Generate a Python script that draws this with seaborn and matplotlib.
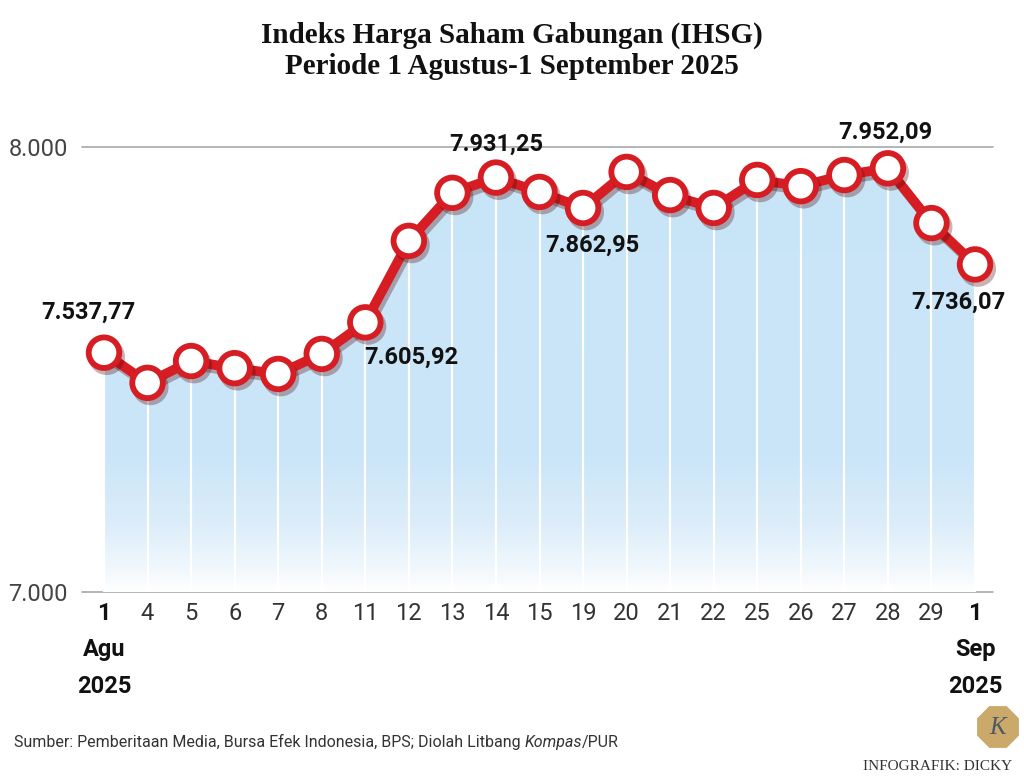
import numpy as np
import pandas as pd
import matplotlib
matplotlib.use('Agg')
import matplotlib.pyplot as plt
import seaborn as sns
from matplotlib import patheffects as pe
from matplotlib.colors import LinearSegmentedColormap
from matplotlib.patches import RegularPolygon

# data (IHSG closing, 1 Aug - 1 Sep 2025)
days = ['1', '4', '5', '6', '7', '8', '11', '12', '13', '14', '15', '19', '20',
        '21', '22', '25', '26', '27', '28', '29', '1']
ihsg = [7537.77, 7470, 7519, 7503, 7490, 7535, 7605.92, 7789, 7897, 7931.25,
        7899, 7862.95, 7944, 7892, 7863, 7926, 7912, 7937, 7952.09, 7829, 7736.07]
tick_labels = ['1\nAgu\n2025'] + days[1:-1] + ['1\nSep\n2025']
y_ticks = [7000, 8000]
y_tick_labels = ['7.000', '8.000']

# labelled points: index -> offset in points
callouts = {0: (-11, 29), 6: (33, -25), 9: (0, 24), 11: (7, -27), 18: (-2, 26), 20: (-12, -27)}

df = pd.DataFrame({'pos': np.arange(len(days)), 'value': ihsg})

sns.set_theme(style='white')
plt.rcParams['font.family'] = ['Roboto', 'DejaVu Sans']

RED = '#d71d24'

fig = plt.figure(figsize=(10.24, 7.79), dpi=100)
ax = fig.add_axes([82 / 1024, 187 / 779, 911 / 1024, 445 / 779])
ax.set_xlim(-0.505, 20.413)
ax.set_ylim(7000, 8000)

# gradient area under the line
cmap = LinearSegmentedColormap.from_list('fade', [
    (0.0, '#ffffff'), (0.04, '#f3f9fd'), (0.15, '#dcedf9'),
    (0.3, '#cbe6f8'), (1.0, '#c8e5f7')])
grad = np.linspace(0, 1, 256).reshape(-1, 1)
img = ax.imshow(grad, aspect='auto', cmap=cmap, origin='lower',
                extent=(df.pos.iloc[0], df.pos.iloc[-1], 7000, 8000), zorder=1)
poly = ax.fill_between(df.pos, 7000, df.value, color='none', lw=0)
img.set_clip_path(poly.get_paths()[0], transform=ax.transData)

# white verticals
ax.vlines(df.pos, 7000, df.value, colors='white', lw=1.6, zorder=2)

# horizontal reference lines
for yv in y_ticks:
    ax.axhline(yv, color='#a8a8a8', lw=1.2, zorder=0, clip_on=False)

sns.lineplot(data=df, x='pos', y='value', ax=ax, color=RED, lw=7,
             marker='o', markersize=22, markerfacecolor='white',
             markeredgecolor=RED, markeredgewidth=4.2, zorder=5, clip_on=False,
             path_effects=[pe.SimpleLineShadow(offset=(2, -3), shadow_color='#4a0000', alpha=0.3),
                           pe.Normal()])

for i, (dx, dy) in callouts.items():
    v = ihsg[i]
    txt = f'{v:,.2f}'.replace(',', ' ').replace('.', ',').replace(' ', '.')
    ax.annotate(txt, xy=(i, v), xytext=(dx, dy), textcoords='offset points',
                ha='center', va='center', fontsize=17, fontweight='bold',
                color='#111111', zorder=6, annotation_clip=False)

ax.set_xticks(df.pos)
ax.set_xticklabels(tick_labels, fontsize=17, color='#333333', linespacing=1.75,
                   va='top')
for k in (0, -1):
    ax.get_xticklabels()[k].set_fontweight('bold')
    ax.get_xticklabels()[k].set_color('#111111')
ax.set_yticks(y_ticks)
ax.set_yticklabels(y_tick_labels, fontsize=17, color='#444444')
ax.tick_params(axis='x', length=0, pad=7)
ax.tick_params(axis='y', length=0, pad=10)
ax.set_xlabel('')
ax.set_ylabel('')
for s in ax.spines.values():
    s.set_visible(False)
ax.grid(False)

# title
fig.text(0.5, 0.972, 'Indeks Harga Saham Gabungan (IHSG)\nPeriode 1 Agustus-1 September 2025',
         ha='center', va='top', fontsize=21, fontweight='bold', family='Liberation Serif',
         linespacing=1.2, color='#111111')

# source line
t1 = fig.text(14 / 1024, 1 - 742 / 779,
              'Sumber: Pemberitaan Media, Bursa Efek Indonesia, BPS; Diolah Litbang ',
              ha='left', va='center', fontsize=11.5, color='#333333')
t2 = ax.annotate('Kompas', xy=(1, 0.5), xycoords=t1, va='center', ha='left',
                 fontsize=11.5, color='#333333', style='italic', annotation_clip=False)
ax.annotate('/PUR', xy=(1, 0.5), xycoords=t2, va='center', ha='left',
            fontsize=11.5, color='#333333', annotation_clip=False)

# logo
lax = fig.add_axes([975 / 1024, 1 - 750 / 779, 46 / 1024, 46 / 779])
lax.set_xlim(-1, 1)
lax.set_ylim(-1, 1)
lax.axis('off')
lax.add_patch(RegularPolygon((0, 0), 8, radius=0.95, orientation=np.pi / 8,
                             color='#caa96a'))
lax.text(0, -0.05, 'K', ha='center', va='center', fontsize=18, style='italic',
         family='Liberation Serif', color='#4d5a63')
fig.text(1012 / 1024, 1 - 767 / 779, 'INFOGRAFIK: DICKY', ha='right', va='center',
         fontsize=11, family='Liberation Serif', color='#333333')

fig.savefig('out.png', dpi=100, facecolor='white')
